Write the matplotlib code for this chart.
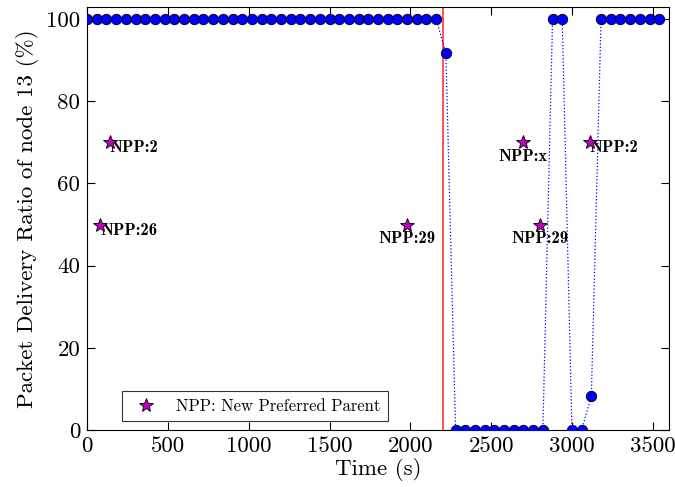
import numpy as np
import matplotlib
matplotlib.use("Agg")
import matplotlib.pyplot as plt

plt.rcParams['font.family'] = 'serif'
plt.rcParams['font.serif'] = ['cmr10']
plt.rcParams['mathtext.fontset'] = 'cm'
plt.rcParams['axes.unicode_minus'] = False

# packet delivery ratio samples (one per minute)
time_s = list(range(0, 2161, 60)) + [2220] + list(range(2280, 2821, 60)) + \
    [2880, 2940, 3000, 3060, 3120] + list(range(3180, 3541, 60))
pdr = [100] * 37 + [91.7] + [0] * 10 + [100, 100, 0, 0, 8.3] + [100] * 7

# new preferred parent events
npp_time = [140, 80, 1980, 2700, 2800, 3110]
npp_y = [70, 50, 50, 70, 50, 70]
npp_label = ["NPP:2", "NPP:26", "NPP:29", "NPP:x", "NPP:29", "NPP:2"]
npp_side = ["right", "right", "below", "below", "below", "right"]

attack_time = 2205

fig = plt.figure(figsize=(6.75, 4.87), dpi=100)
ax = fig.add_axes([0.129, 0.117, 0.862, 0.869])

ax.plot(time_s, pdr, 'b:', lw=0.9, marker='o', markersize=7.5,
        markerfacecolor='b', markeredgecolor='k', markeredgewidth=0.6, zorder=3)
ax.axvline(attack_time, color='r', lw=1.2, alpha=0.8, zorder=2)

ax.plot(npp_time, npp_y, linestyle='none', marker='*', markersize=10,
        markerfacecolor='m', markeredgecolor='k', markeredgewidth=0.6,
        label="NPP: New Preferred Parent", zorder=4)

for t, y, lab, side in zip(npp_time, npp_y, npp_label, npp_side):
    if side == "right":
        ax.text(t, y + 0.5, lab, fontfamily='cmb10', fontsize=12, ha='left', va='top')
    else:
        ax.text(t, y - 1.5, lab, fontfamily='cmb10', fontsize=12, ha='center', va='top')

ax.set_xlim(0, 3600)
ax.set_ylim(0, 103)
ax.set_xticks(np.arange(0, 3501, 500))
ax.set_yticks(np.arange(0, 101, 20))
ax.tick_params(direction='in', top=True, right=True, length=6, labelsize=16.5, pad=5)
ax.set_xlabel("Time (s)", fontsize=16.5, labelpad=1)
ax.set_ylabel("Packet Delivery Ratio of node 13 (%)", fontsize=16.6, labelpad=5)

leg = ax.legend(loc='lower left', bbox_to_anchor=(0.06, 0.021), borderaxespad=0,
                numpoints=1, fancybox=False, edgecolor='k', fontsize=12, borderpad=0.45)
leg.get_frame().set_linewidth(0.8)

fig.savefig("out.png", dpi=100)
